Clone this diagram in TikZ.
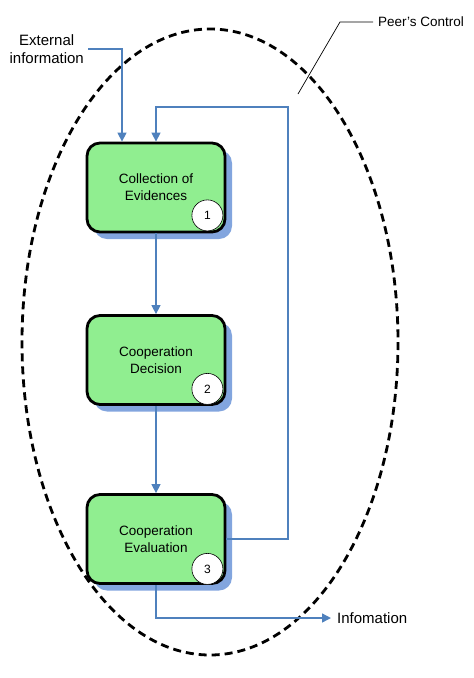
\documentclass[tikz,border=0pt]{standalone}
\usepackage{fontspec}
\setmainfont{Liberation Sans}
\usetikzlibrary{arrows.meta,calc}
\definecolor{boxgreen}{RGB}{144,238,144}
\definecolor{flowblue}{RGB}{79,129,189}
\definecolor{shadowblue}{RGB}{130,165,222}
\tikzset{
  stepbox/.style={draw=black,line width=2.8pt,fill=boxgreen,rounded corners=13pt,
    minimum width=138pt,minimum height=89pt,align=center,font=\fontsize{13.5}{17}\selectfont,inner sep=0pt},
  boxshadow/.style={fill=shadowblue,rounded corners=13pt},
  numcirc/.style={circle,draw=black,line width=0.6pt,fill=white,minimum size=31pt,inner sep=0pt,font=\fontsize{12}{14}\selectfont},
  flow/.style={draw=flowblue,line width=1.4pt,-{Triangle[length=9pt,width=9pt]}},
  lbl/.style={align=center,inner sep=0pt,font=\fontsize{15}{18}\selectfont},
  peer/.style={black,line width=2.8pt,dash pattern=on 8pt off 5pt},
}
\begin{document}
\begin{tikzpicture}[x=1pt,y=-1pt]
\useasboundingbox (0,0) rectangle (474,678);
% peer's control ellipse
\draw[peer] (210,342) ellipse [x radius=188, y radius=313];
% shadows
\foreach \cy in {187.5,360,539}{
  \fill[boxshadow] (87+7,\cy-44.5+7) rectangle (225+7,\cy+44.5+7);
}
% boxes
\node[stepbox] (b1) at (156,187.5) {Collection of\\Evidences};
\node[stepbox] (b2) at (156,360) {Cooperation\\Decision};
\node[stepbox] (b3) at (156,539) {Cooperation\\Evaluation};
\node[numcirc] (n1) at ($(b1.south east)+(-19,-18)$) {1};
\node[numcirc] (n2) at ($(b2.south east)+(-19,-17)$) {2};
\node[numcirc] (n3) at ($(b3.south east)+(-19,-16)$) {3};
% labels
\node[lbl,anchor=east] (ext) at (84,49) {External\\information};
\node[font=\fontsize{13.5}{16}\selectfont,anchor=west,inner sep=0pt] (peerlbl) at (378,22) {Peer's Control};
\node[lbl,anchor=west] (info) at (337,618) {Infomation};
% connectors
\coordinate (extin) at ($(b1.north)+(-34,0)$);
\draw[flow] (ext.east) ++(4,0) -| (extin);
\draw[flow] (b1) -- (b2);
\draw[flow] (b2) -- (b3);
\coordinate (loopc) at (288,107);
\draw[flow] (b3.east) -| (loopc) -| (b1.north);
\coordinate (infotip) at ($(info.west)+(-6,0)$);
\draw[flow] (b3.south) |- (infotip);
% peer's control leader
\coordinate (leadend) at (298,94);
\draw[black,line width=0.7pt] (peerlbl.west) ++(-5,0) -- (340,22) -- (leadend);
\end{tikzpicture}
\end{document}
